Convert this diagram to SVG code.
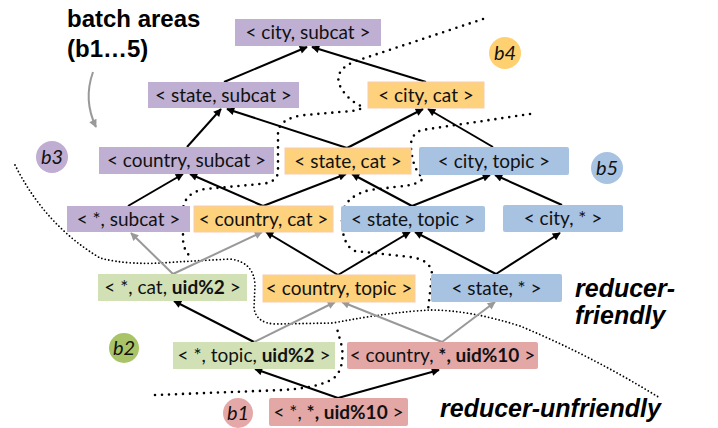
<svg xmlns="http://www.w3.org/2000/svg" width="718" height="428" viewBox="0 0 718 428">
<defs>
<style>
.bx text{font-family:Lato,"Liberation Sans",sans-serif;font-size:19px;fill:#111;text-anchor:middle}
.pu{fill:#BFB0D3}
.or{fill:#FED17C;stroke:#F8CBAD;stroke-width:1}
.bl{fill:#A8C2E2}
.gr{fill:#D1E1B5}
.rd{fill:#E3A7A6}
.b{font-weight:bold}
.e{stroke:#000;stroke-width:2;fill:none;marker-end:url(#ah)}
.g{stroke:#999;stroke-width:2;fill:none;marker-end:url(#ahg)}
.d{stroke:#000;stroke-width:2.6;fill:none;stroke-dasharray:0 7;stroke-linecap:round}
.df{stroke:#000;stroke-width:1.8;fill:none;stroke-dasharray:0 3.6;stroke-linecap:round}
.lab{font-family:Lato,"Liberation Sans",sans-serif;font-style:italic;font-size:20px;fill:#111;text-anchor:middle}
.big{font-family:"Liberation Sans",Arial,sans-serif;font-weight:bold;fill:#000}
</style>
<marker id="ah" viewBox="0 0 10 10" refX="9" refY="5" markerWidth="10" markerHeight="8" markerUnits="userSpaceOnUse" orient="auto"><path d="M0,0 L10,5 L0,10 z" fill="#000"/></marker>
<marker id="ahg" viewBox="0 0 10 10" refX="9" refY="5" markerWidth="10" markerHeight="8" markerUnits="userSpaceOnUse" orient="auto"><path d="M0,0 L10,5 L0,10 z" fill="#999"/></marker>
</defs>
<rect width="718" height="428" fill="#fff"/>

<g id="title">
<text class="big" x="67" y="27" font-size="24">batch areas</text>
<text class="big" x="67" y="57" font-size="24">(b1…5)</text>
<path d="M93,72 Q83,100 96,127" stroke="#999" stroke-width="2" fill="none" marker-end="url(#ahg)"/>
</g>

<g id="boundaries">
<path class="d" d="M483,19 L356,61 Q333,70 340,86 Q347,100 363,107 Q360,111 340,112 L305,115 Q280,118 278,132 L278,172 Q277,183 260,184 L205,189 Q184,193 183,210 L183,240 Q184,252 192,258"/>
<path class="d" d="M530,114 L422,130 Q410,134 411,148 Q413,170 423,178 Q420,185 395,187 L370,190 Q345,196 342,215 Q341,245 355,251 L410,257 Q432,260 432,275 L428,310"/>
<path class="df" d="M15,165 Q45,225 100,258 Q130,266 175,262 L230,259 Q254,262 255,285 L254,308 Q256,323 275,324 L333,323 Q390,312 430,310 Q470,310 520,326 Q590,355 660,398"/>
<path class="d" d="M155,395 L283,390 Q327,387 337,375 Q344,365 342,347 L336,325"/>
</g>

<g id="connectors">
<line class="e" x1="224" y1="82" x2="307" y2="47"/>
<line class="e" x1="426" y1="82" x2="312" y2="47"/>
<line class="e" x1="187" y1="147" x2="221" y2="109"/>
<line class="e" x1="347" y1="148" x2="227" y2="109"/>
<line class="e" x1="347" y1="148" x2="423" y2="109"/>
<line class="e" x1="493" y1="147" x2="428" y2="109"/>
<line class="e" x1="128" y1="206" x2="183" y2="174"/>
<line class="e" x1="263" y1="206" x2="190" y2="174"/>
<line class="e" x1="263" y1="206" x2="346" y2="174"/>
<line class="e" x1="412" y1="206" x2="352" y2="174"/>
<line class="e" x1="412" y1="206" x2="490" y2="175"/>
<line class="e" x1="562" y1="205" x2="495" y2="175"/>
<line class="g" x1="173" y1="274" x2="131" y2="233"/>
<line class="g" x1="173" y1="274" x2="262" y2="232"/>
<line class="e" x1="338" y1="275" x2="266" y2="232"/>
<line class="e" x1="338" y1="275" x2="410" y2="232"/>
<line class="e" x1="496" y1="274" x2="415" y2="232"/>
<line class="e" x1="496" y1="274" x2="560" y2="233"/>
<line class="e" x1="254" y1="342" x2="174" y2="301"/>
<line class="g" x1="254" y1="342" x2="335" y2="302"/>
<line class="g" x1="442" y1="342" x2="342" y2="302"/>
<line class="g" x1="442" y1="342" x2="495" y2="302"/>
<line class="e" x1="338" y1="398" x2="255" y2="369"/>
<line class="e" x1="338" y1="398" x2="439" y2="370"/>
</g>

<g id="n1" class="bx"><rect class="pu" x="235" y="19" width="146" height="27"/><text x="308" y="39">&lt; city, subcat &gt;</text></g>
<g id="n2" class="bx"><rect class="pu" x="148" y="82" width="151" height="26"/><text x="223.5" y="101.5">&lt; state, subcat &gt;</text></g>
<g id="n3" class="bx"><rect class="or" x="368" y="82" width="116" height="26"/><text x="426" y="101.5">&lt; city, cat &gt;</text></g>
<g id="n4" class="bx"><rect class="pu" x="99" y="147" width="175" height="27"/><text x="186.5" y="167">&lt; country, subcat &gt;</text></g>
<g id="n5" class="bx"><rect class="or" x="285" y="148" width="126" height="26"/><text x="348" y="167.5">&lt; state, cat &gt;</text></g>
<g id="n6" class="bx"><rect class="bl" x="419" y="147" width="150" height="28" rx="2"/><text x="494" y="167.5">&lt; city, topic &gt;</text></g>
<g id="n7" class="bx"><rect class="pu" x="67" y="206" width="123" height="26"/><text x="128.5" y="225.5">&lt; *, subcat &gt;</text></g>
<g id="n8" class="bx"><rect class="or" x="194" y="206" width="139" height="26"/><text x="263.5" y="225.5">&lt; country, cat &gt;</text></g>
<g id="n9" class="bx"><rect class="bl" x="341" y="206" width="144" height="26" rx="2"/><text x="413" y="225.5">&lt; state, topic &gt;</text></g>
<g id="n10" class="bx"><rect class="bl" x="503" y="205" width="120" height="27" rx="2"/><text x="563" y="225">&lt; city, * &gt;</text></g>
<g id="n11" class="bx"><rect class="gr" x="98" y="274" width="149" height="27"/><text x="172.5" y="294">&lt; *, cat, <tspan class="b">uid%2</tspan> &gt;</text></g>
<g id="n12" class="bx"><rect class="or" x="263" y="275" width="152" height="27"/><text x="339" y="295">&lt; country, topic &gt;</text></g>
<g id="n13" class="bx"><rect class="bl" x="431" y="274" width="131" height="28" rx="2"/><text x="496.5" y="294.5">&lt; state, * &gt;</text></g>
<g id="n14" class="bx"><rect class="gr" x="173" y="342" width="162" height="27"/><text x="254" y="362">&lt; *, topic, <tspan class="b">uid%2</tspan> &gt;</text></g>
<g id="n15" class="bx"><rect class="rd" x="347" y="342" width="191" height="27" rx="2"/><text x="442.5" y="362">&lt; country, <tspan class="b">*, uid%10</tspan> &gt;</text></g>
<g id="n16" class="bx"><rect class="rd" x="269" y="398" width="139" height="28" rx="2"/><text x="338.5" y="418.5">&lt; *, <tspan class="b">*, uid%10</tspan> &gt;</text></g>

<g id="b3"><circle cx="52" cy="157" r="16" fill="#BFAED2"/><text class="lab" x="52" y="164">b3</text></g>
<g id="b4"><circle cx="505" cy="53" r="16" fill="#FFD06F"/><text class="lab" x="505" y="60">b4</text></g>
<g id="b5"><circle cx="607" cy="168" r="16" fill="#A8C2E2"/><text class="lab" x="607" y="175">b5</text></g>
<g id="b2"><circle cx="124" cy="348" r="15" fill="#A9C467"/><text class="lab" x="124" y="355">b2</text></g>
<g id="b1"><circle cx="238" cy="413" r="15" fill="#E5A8A8"/><text class="lab" x="238" y="420">b1</text></g>

<g id="zones">
<text class="big" x="575" y="297" font-size="25" font-style="italic">reducer-</text>
<text class="big" x="575" y="324" font-size="25" font-style="italic">friendly</text>
<text class="big" x="440" y="417" font-size="25" font-style="italic">reducer-unfriendly</text>
</g>
</svg>
